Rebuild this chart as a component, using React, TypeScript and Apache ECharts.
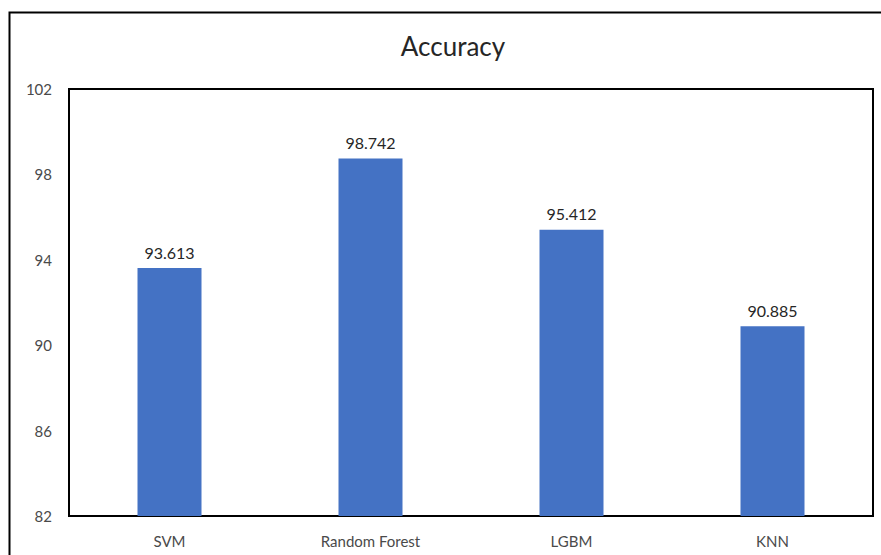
import React, { useEffect, useRef } from "react";
import * as echarts from "echarts";

const categories = ["SVM", "Random Forest", "LGBM", "KNN"];
const accuracy = [93.613, 98.742, 95.412, 90.885];
const yMin = 82;
const yMax = 102;
const yStep = 4;

export default function App() {
  const ref = useRef<HTMLDivElement>(null);
  useEffect(() => {
    if (!ref.current) return;
    const chart = echarts.init(ref.current, null, { renderer: "svg" });
    chart.setOption({
      animation: false,
      backgroundColor: "#ffffff",
      textStyle: { fontFamily: "Lato" },
      title: {
        text: "Accuracy",
        left: 448,
        top: 28,
        textAlign: "center",
        textStyle: { fontFamily: "Lato", fontSize: 26, fontWeight: "normal", color: "#262626" },
      },
      graphic: [
        {
          type: "polyline",
          shape: { points: [[9.5, 560], [9.5, 12.5], [890, 12.5]] },
          style: { stroke: "#000", lineWidth: 2, fill: "none" },
          silent: true,
        },
      ],
      grid: {
        left: 69,
        right: 8,
        top: 89,
        bottom: 39,
        show: true,
        borderColor: "#000",
        borderWidth: 2,
        backgroundColor: "transparent",
      },
      xAxis: {
        type: "category",
        data: categories,
        axisLine: { show: true, lineStyle: { color: "#000", width: 2 } },
        axisTick: { show: false },
        axisLabel: { color: "#4a4a4a", fontSize: 15, margin: 17, fontFamily: "Lato" },
      },
      yAxis: {
        type: "value",
        min: yMin,
        max: yMax,
        interval: yStep,
        axisLine: { show: false },
        axisTick: { show: false },
        splitLine: { show: false },
        axisLabel: { color: "#4a4a4a", fontSize: 15, margin: 17, fontFamily: "Lato" },
      },
      series: [
        {
          type: "bar",
          data: accuracy,
          barWidth: 64,
          itemStyle: { color: "#4472C4" },
          label: {
            show: true,
            position: "top",
            distance: 8,
            color: "#262626",
            fontSize: 16,
            fontFamily: "Lato",
            formatter: (p: any) => String(p.value),
          },
        },
      ],
    });
    return () => chart.dispose();
  }, []);
  return (
    <div
      ref={ref}
      style={{ position: "fixed", left: 0, top: 0, width: 881, height: 555 }}
    />
  );
}
